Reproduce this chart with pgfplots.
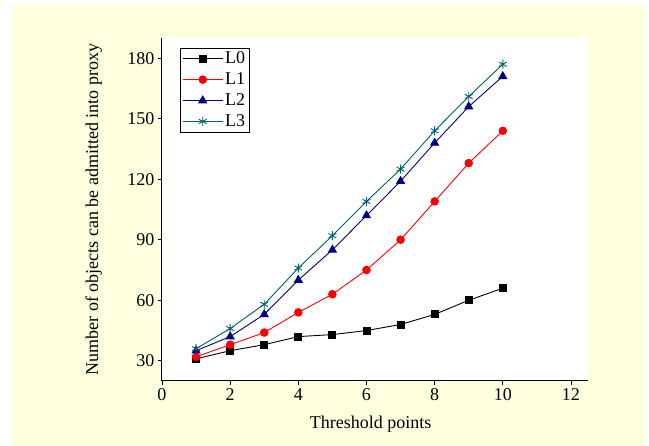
\documentclass[border=0pt]{standalone}
\usepackage{fontspec}
\setmainfont{Liberation Serif}
\usepackage{pgfplots}
\pgfplotsset{compat=1.18}

\definecolor{cream}{RGB}{255,255,224}
\definecolor{lnavy}{RGB}{0,0,128}
\definecolor{lteal}{RGB}{0,96,112}

\begin{document}
\begin{tikzpicture}[x=1pt,y=1pt]
\useasboundingbox (-162,-65) rectangle (487,381);
\fill[cream] (-150,-65) rectangle (483,376);
\begin{axis}[
    at={(0,0)}, anchor=south west,
    scale only axis,
    width=426pt, height=343pt,
    axis background/.style={fill=white},
    axis lines*=left,
    axis line style={black, line width=1pt},
    xmin=0, xmax=12.5,
    ymin=20, ymax=190,
    xtick={0,2,...,12},
    ytick={30,60,...,180},
    tick align=outside,
    tick style={black, line width=0.8pt},
    major tick length=4pt,
    font=\fontsize{18}{21}\selectfont,
    /pgf/number format/assume math mode=true,
    xlabel={Threshold points},
    ylabel={Number of objects can be admitted into proxy},
    every axis x label/.style={at={(axis description cs:0.49,-0.125)}, anchor=center},
    every axis y label/.style={at={(axis description cs:-0.16,0.5)}, rotate=90, anchor=center},
    legend style={at={(axis description cs:0.042,0.972)}, anchor=north west,
        draw=black, line width=0.8pt, inner sep=2pt, row sep=3.5pt,
        font=\fontsize{18}{21}\selectfont, cells={anchor=west}},
    legend image code/.code={
        \draw[mark repeat=2, mark phase=2] plot coordinates {(0pt,0pt) (20pt,0pt) (40pt,0pt)};},
    every axis plot/.append style={line width=0.9pt},
]
\addplot[black, mark=square*, mark size=3.5pt] coordinates {
    (1,31) (2,35) (3,38) (4,42) (5,43) (6,45) (7,48) (8,53) (9,60) (10,66)};
\addlegendentry{L0}
\addplot[red, mark=*, mark size=3.8pt] coordinates {
    (1,32) (2,38) (3,44) (4,54) (5,63) (6,75) (7,90) (8,109) (9,128) (10,144)};
\addlegendentry{L1}
\addplot[lnavy, mark=triangle*, mark size=4.5pt] coordinates {
    (1,35) (2,42) (3,53) (4,70) (5,85) (6,102) (7,119) (8,138) (9,156) (10,171)};
\addlegendentry{L2}
\addplot[lteal, mark=asterisk, mark size=4.5pt, mark options={line width=0.9pt}] coordinates {
    (1,36) (2,46) (3,58) (4,76) (5,92) (6,109) (7,125) (8,144) (9,161) (10,177)};
\addlegendentry{L3}
\end{axis}
\end{tikzpicture}
\end{document}
